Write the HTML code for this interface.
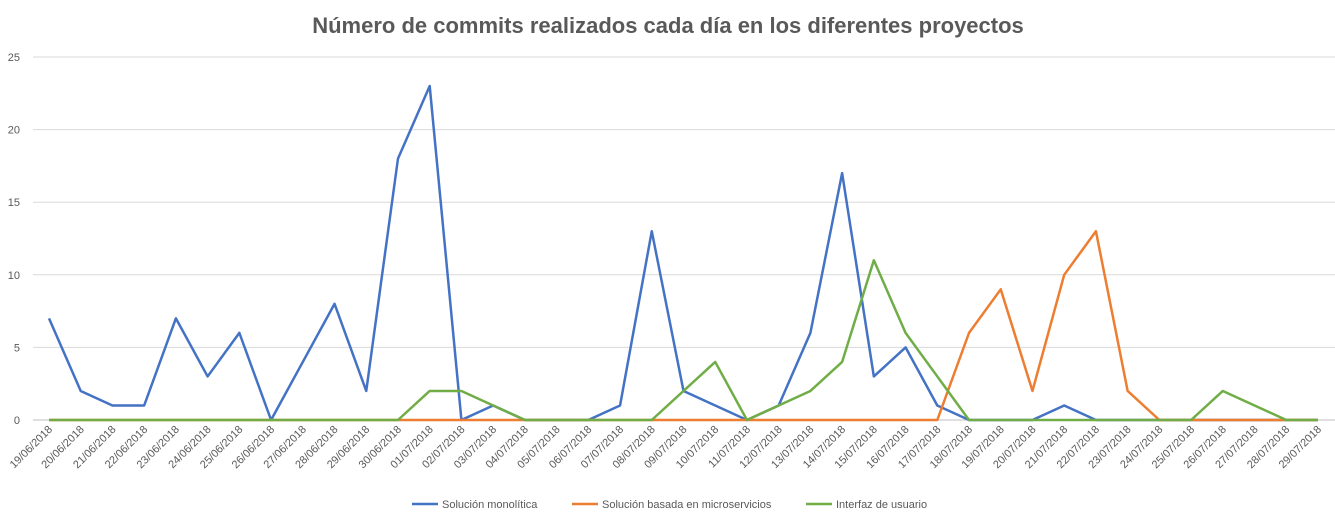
<!DOCTYPE html>
<html><head><meta charset="utf-8"><style>
body{margin:0;background:#fff;font-family:"Liberation Sans",sans-serif}
svg{display:block}
</style></head><body>
<svg id="chart" width="1335" height="522" xmlns="http://www.w3.org/2000/svg">
<text x="668" y="33" text-anchor="middle" font-size="22" font-weight="bold" fill="#595959" font-family="Liberation Sans, sans-serif">Número de commits realizados cada día en los diferentes proyectos</text>
<g id="grid"></g><g id="xlabels"></g><g id="series"></g>
<g font-size="11" fill="#595959">
<line x1="412" y1="504" x2="438" y2="504" stroke="#4472C4" stroke-width="2.5"/><text x="442" y="508">Solución monolítica</text>
<line x1="572" y1="504" x2="598" y2="504" stroke="#ED7D31" stroke-width="2.5"/><text x="602" y="508">Solución basada en microservicios</text>
<line x1="806" y1="504" x2="832" y2="504" stroke="#70AD47" stroke-width="2.5"/><text x="836" y="508">Interfaz de usuario</text>
</g>
</svg>
<script>
const dates=["19/06/2018","20/06/2018","21/06/2018","22/06/2018","23/06/2018","24/06/2018","25/06/2018","26/06/2018","27/06/2018","28/06/2018","29/06/2018","30/06/2018","01/07/2018","02/07/2018","03/07/2018","04/07/2018","05/07/2018","06/07/2018","07/07/2018","08/07/2018","09/07/2018","10/07/2018","11/07/2018","12/07/2018","13/07/2018","14/07/2018","15/07/2018","16/07/2018","17/07/2018","18/07/2018","19/07/2018","20/07/2018","21/07/2018","22/07/2018","23/07/2018","24/07/2018","25/07/2018","26/07/2018","27/07/2018","28/07/2018","29/07/2018"];
const monolitica=[7,2,1,1,7,3,6,0,4,8,2,18,23,0,1,0,0,0,1,13,2,1,0,1,6,17,3,5,1,0,0,0,1,0,0,0,0,0,0,0,0];
const microservicios=[0,0,0,0,0,0,0,0,0,0,0,0,0,0,0,0,0,0,0,0,0,0,0,0,0,0,0,0,0,6,9,2,10,13,2,0,0,0,0,0,0];
const interfaz=[0,0,0,0,0,0,0,0,0,0,0,0,2,2,1,0,0,0,0,0,2,4,0,1,2,4,11,6,3,0,0,0,0,0,0,0,0,2,1,0,0];
const yTicks=[0,5,10,15,20,25];
const NS="http://www.w3.org/2000/svg";
const x0=49,x1=1318,yb=420,yt=57,ymax=25;
const xs=i=>x0+i*(x1-x0)/(dates.length-1);
const ys=v=>yb-v*(yb-yt)/ymax;
function mk(t,a,p){const e=document.createElementNS(NS,t);for(const k in a)e.setAttribute(k,a[k]);p.appendChild(e);return e;}
const grid=document.getElementById('grid');
yTicks.forEach(v=>{
 const l=mk('line',{x1:33,x2:1335,y1:ys(v),y2:ys(v),stroke:v===0?'#bfbfbf':'#d9d9d9','stroke-width':1},grid);
 
 
 const t=mk('text',{x:20,y:ys(v)+4,'text-anchor':'end','font-size':11,fill:'#595959'},grid);
 t.textContent=v;
 
 
});
const xl=document.getElementById('xlabels');
dates.forEach((d,i)=>{
 const x=xs(i);
 const t=mk('text',{x:x+4,y:430,'text-anchor':'end','font-size':11,fill:'#595959',transform:`rotate(-45 ${x+4} 430)`},xl);
 t.textContent=d;
 
 
});
const sg=document.getElementById('series');
[[monolitica,'#4472C4','series-monolitica'],[microservicios,'#ED7D31','series-microservicios'],[interfaz,'#70AD47','series-interfaz']].forEach(([arr,c,n])=>{
 const p=mk('polyline',{points:arr.map((v,i)=>xs(i)+','+ys(v)).join(' '),fill:'none',stroke:c,'stroke-width':2.5,'stroke-linejoin':'round'},sg);
 
 
});
</script>
</body></html>
